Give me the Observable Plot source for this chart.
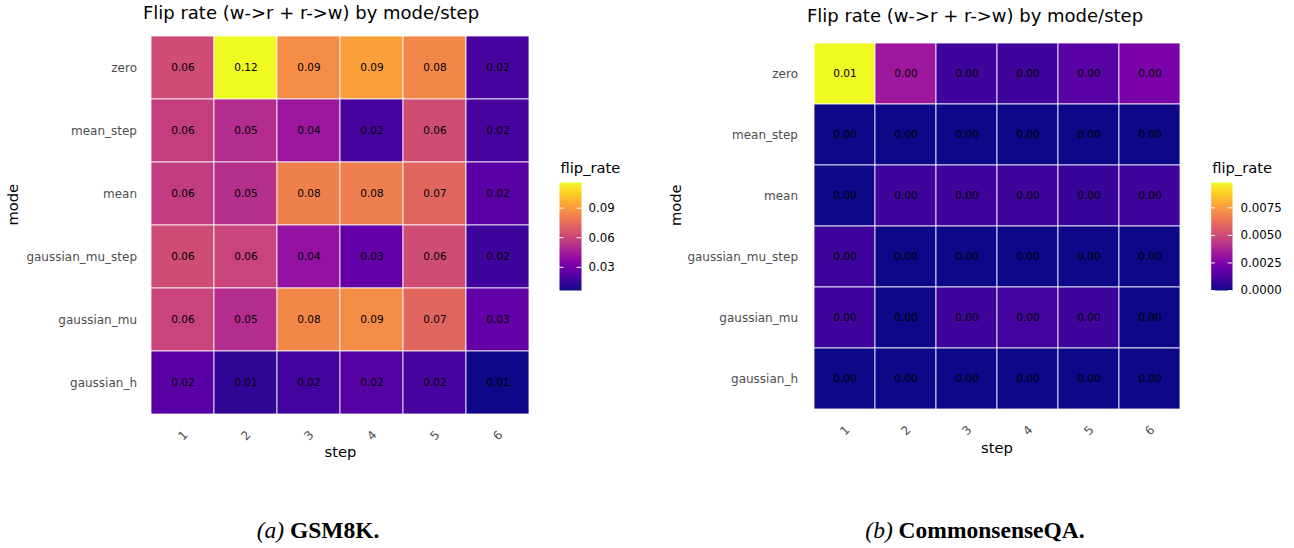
<!DOCTYPE html>
<html><head><meta charset="utf-8">
<script src="https://cdn.jsdelivr.net/npm/d3@7"></script>
<script src="https://cdn.jsdelivr.net/npm/@observablehq/plot@0.6"></script>
<style>
body{margin:0;background:#fff;}
#root{position:relative;width:1294px;height:548px;overflow:hidden;background:#fff;font-family:"DejaVu Sans";}
.title{position:absolute;width:600px;text-align:center;font-family:"DejaVu Sans";font-size:18px;line-height:20px;color:#000;white-space:nowrap;}
.cap{position:absolute;width:600px;text-align:center;font-family:"Liberation Serif";font-size:23.5px;line-height:28px;color:#000;white-space:nowrap;}
</style></head><body><div id="root"></div>
<script>
// Categories
const steps = [1, 2, 3, 4, 5, 6];
const modes = ["zero", "mean_step", "mean", "gaussian_mu_step", "gaussian_mu", "gaussian_h"];

// (a) GSM8K flip rates, by mode, steps 1..6
const gsmZero           = [0.063, 0.116, 0.086, 0.092, 0.084, 0.019];
const gsmMeanStep       = [0.058, 0.051, 0.043, 0.019, 0.063, 0.019];
const gsmMean           = [0.057, 0.052, 0.082, 0.081, 0.073, 0.024];
const gsmGaussMuStep    = [0.063, 0.060, 0.041, 0.027, 0.063, 0.017];
const gsmGaussMu        = [0.060, 0.051, 0.084, 0.086, 0.073, 0.027];
const gsmGaussH         = [0.024, 0.013, 0.018, 0.023, 0.019, 0.0065];

// (b) CommonsenseQA flip rates, by mode, steps 1..6
const csqaZero          = [0.0098, 0.0033, 0.0009, 0.0009, 0.0015, 0.0024];
const csqaMeanStep      = [0, 0, 0, 0, 0, 0];
const csqaMean          = [0, 0.0009, 0.0009, 0.0009, 0.0008, 0.0009];
const csqaGaussMuStep   = [0.0009, 0, 0, 0, 0, 0];
const csqaGaussMu       = [0.0009, 0, 0.0009, 0.001, 0.0009, 0];
const csqaGaussH        = [0, 0, 0, 0, 0, 0];

// Legend ticks
const gsmTicks  = [0.03, 0.06, 0.09];
const csqaTicks = [0, 0.0025, 0.005, 0.0075];

const titleText = "Flip rate (w->r + r->w) by mode/step";

const gsmRows  = [gsmZero, gsmMeanStep, gsmMean, gsmGaussMuStep, gsmGaussMu, gsmGaussH];
const csqaRows = [csqaZero, csqaMeanStep, csqaMean, csqaGaussMuStep, csqaGaussMu, csqaGaussH];

function table(rows) {
  const data = [];
  modes.forEach((m, i) => steps.forEach((s, j) => data.push({mode: m, step: s, flip_rate: rows[i][j]})));
  return data;
}

function heatmap(rows, o) {
  const data = table(rows);
  const dom = d3.extent(data, d => d.flip_rate);
  return Plot.plot({
    width: o.width, height: o.height,
    marginTop: o.mt, marginLeft: o.ml, marginRight: o.mr, marginBottom: o.mb,
    style: {fontFamily: "DejaVu Sans", fontSize: "12px", background: "transparent", overflow: "visible"},
    x: {type: "band", domain: steps, padding: 0, axis: null},
    y: {type: "band", domain: modes, padding: 0, axis: null},
    color: {type: "linear", scheme: "plasma", domain: dom},
    marks: [
      Plot.cell(data, {x: "step", y: "mode", fill: "flip_rate", stroke: "white", strokeWidth: 0.8}),
      Plot.text(data, {x: "step", y: "mode", text: d => d3.format(".2f")(d.flip_rate), fill: "black", fontSize: 10.5}),
      Plot.axisY({tickSize: 0, tickPadding: 13.5, fill: "#4d4d4d", fontSize: 12, label: null}),
      Plot.text(steps, {x: d => d, frameAnchor: "bottom", dy: o.tickDy, rotate: -45, text: d => String(d),
        fill: "#4d4d4d", fontSize: 12, textAnchor: "middle", lineAnchor: "middle"}),
      Plot.text(["step"], {frameAnchor: "bottom", dy: o.stepDy, text: d => d, fontSize: 14.7, fill: "black", lineAnchor: "middle"}),
      Plot.text(["mode"], {frameAnchor: "left", dx: o.modeDx, rotate: -90, text: d => d, fontSize: 14.7, fill: "black", lineAnchor: "middle"})
    ]
  });
}

function colorbar(rows, ticks, fmt, o) {
  const values = rows.flat();
  const dom = d3.extent(values);
  const mb = 20;
  return Plot.plot({
    width: o.width, height: o.mt + o.bh + mb,
    marginLeft: o.ml, marginRight: o.width - o.ml - o.bw, marginTop: o.mt, marginBottom: mb,
    style: {fontFamily: "DejaVu Sans", fontSize: "12px", background: "transparent", overflow: "visible"},
    x: {domain: [0, 1], axis: null},
    y: {domain: dom, axis: null},
    color: {type: "linear", scheme: "plasma", domain: dom},
    marks: [
      Plot.raster({fill: (x, y) => y, x1: 0, x2: 1, y1: dom[0], y2: dom[1], width: 1, height: 240}),
      Plot.ruleY(ticks, {y: d => d, x1: 0, x2: 0.2, stroke: "white", strokeWidth: 1}),
      Plot.ruleY(ticks, {y: d => d, x1: 0.8, x2: 1, stroke: "white", strokeWidth: 1}),
      Plot.axisY(ticks, {anchor: "right", tickSize: 0, tickPadding: o.pad, tickFormat: fmt, fontSize: 11.8, fill: "black", label: null}),
      Plot.text(["flip_rate"], {frameAnchor: "top-left", dy: -14, dx: 1, textAnchor: "start", fontSize: 14.7, fill: "black", lineAnchor: "middle"})
    ]
  });
}

const root = document.getElementById("root");
function place(el, left, top) {
  el.style.position = "absolute";
  el.style.left = left + "px";
  el.style.top = top + "px";
  root.appendChild(el);
}

// Left panel (GSM8K)
place(heatmap(gsmRows, {width: 540, height: 470, mt: 35, ml: 150, mr: 10, mb: 55, tickDy: 20, stepDy: 37, modeDx: -137}), 0, 0);
place(colorbar(gsmRows, gsmTicks, d3.format(".2f"), {width: 100, ml: 19, bw: 22, mt: 32, bh: 108, pad: 7}), 540, 150);

// Right panel (CommonsenseQA)
place(heatmap(csqaRows, {width: 542, height: 466, mt: 40, ml: 161, mr: 10, mb: 55, tickDy: 19, stepDy: 36.7, modeDx: -135.5}), 650, 0);
place(colorbar(csqaRows, csqaTicks, d3.format(".4f"), {width: 104, ml: 20.7, bw: 21.3, mt: 32, bh: 108, pad: 8}), 1190, 150);

// Titles and captions
function addDiv(cls, html, cx, top) {
  const d = document.createElement("div");
  d.className = cls;
  d.innerHTML = html;
  d.style.left = (cx - 300) + "px";
  d.style.top = top + "px";
  root.appendChild(d);
}
addDiv("title", titleText.replace(/>/g, "&gt;"), 311, 2.5);
addDiv("title", titleText.replace(/>/g, "&gt;"), 975, 5.5);

addDiv("cap", "<i>(a)</i> <b>GSM8K.</b>", 318, 516);
addDiv("cap", "<i>(b)</i> <b>CommonsenseQA.</b>", 975, 516);
</script>
</body></html>
